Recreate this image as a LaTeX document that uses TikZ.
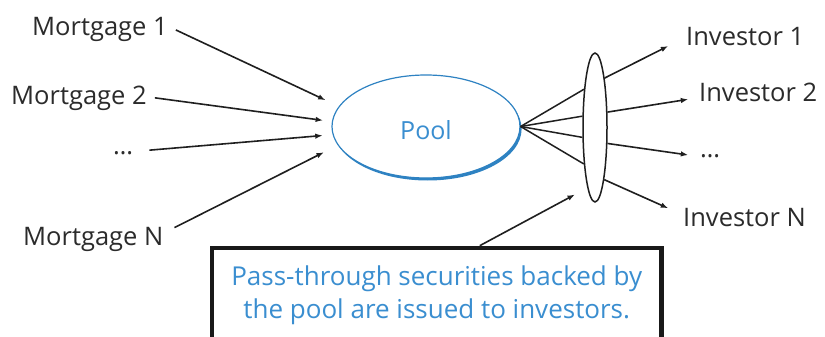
\documentclass[tikz,border=0pt]{standalone}
\usepackage{fontspec}
\setmainfont{Open Sans}
\usetikzlibrary{shapes.geometric,arrows.meta}
\definecolor{lblc}{HTML}{2B2B2B}
\definecolor{poolblue}{HTML}{2E82C2}
\definecolor{txtblue}{HTML}{3A8ED0}
\begin{document}
\begin{tikzpicture}[x=1pt,y=-1pt,
  lbl/.style={text=lblc, font=\fontsize{25.5}{30}\selectfont, inner sep=0pt, anchor=base west},
  arr/.style={line width=1.6pt, draw=black!88, -{Latex[length=7.5pt,width=5.5pt]}},
  ln/.style={line width=1.5pt, draw=black!88},
  poolshape/.style={ellipse, draw=poolblue, line width=1.2pt, minimum width=188pt, minimum height=103pt,
     text=txtblue, font=\fontsize{25}{30}\selectfont, text height=26.5pt, text depth=0pt},
  lensshape/.style={ellipse, draw=black!88, line width=1.5pt, minimum width=24pt, minimum height=149pt, inner sep=0pt},
  notebox/.style={rectangle, draw=black!90, line width=4.6pt, minimum width=449.5pt, minimum height=95pt,
     text=txtblue, align=center, font=\fontsize{26}{33}\selectfont}]
\useasboundingbox (0,0) rectangle (825,337);
\clip (0,0) rectangle (825,337);
\fill[white] (0,0) rectangle (825,337);

% pool shadow crescent
\begin{scope}[even odd rule]
  \clip (0,0) rectangle (825,337) (426,126.5) ellipse [x radius=94, y radius=51.5];
  \fill[poolblue] (427.6,129) ellipse [x radius=94, y radius=51.5];
\end{scope}
\node[poolshape] (pool) at (426,126.5) {Pool};
\node[lensshape] (lens) at (595,127.5) {};

% labels
\node[lbl] (m1) at (32,36) {Mortgage 1};
\node[lbl] (m2) at (11,104) {Mortgage 2};
\node[lbl] (md) at (113,154) {…};
\node[lbl] (mN) at (23,245) {Mortgage N};
\node[lbl] (i1) at (686,46) {Investor 1};
\node[lbl] (i2) at (699,102) {Investor 2};
\node[lbl] (id) at (700,157) {…};
\node[lbl] (iN) at (683,226) {Investor N};

% note box
\node[notebox] (note) at (436.75,295.5) {Pass-through securities backed by\\the pool are issued to investors.};

% mortgages into pool
\draw[arr, shorten >=14.5pt] ([xshift=8pt]m1.east) -- (pool.167.9);
\draw[arr, shorten >=8.8pt] ([xshift=8pt]m2.east) -- (pool.177.6);
\draw[arr, shorten >=9.9pt] ([xshift=16pt,yshift=2.5pt]md.east) -- (pool.185.5);
\draw[arr, shorten >=15.5pt] ([xshift=11pt,yshift=-1pt]mN.north east) -- (pool.192.9);

% pool to lens
\draw[ln] (pool.east) -- (lens.106.1);
\draw[ln] (pool.east) -- (lens.138);
\draw[ln] (pool.east) -- (lens.218);
\draw[ln] (pool.east) -- (lens.253.9);

% lens to investors
\draw[arr] (lens.79.4) -- ([xshift=-17.7pt]i1.base west);
\draw[arr] (lens.51.3) -- ([xshift=-10.7pt,yshift=2.7pt]i2.base west);
\draw[arr] (lens.308.7) -- ([xshift=-11.7pt,yshift=2pt]id.base west);
\draw[arr] (lens.280.6) -- ([xshift=-14.7pt,yshift=17.7pt]iN.base west);

% note to lens
\draw[arr] ([xshift=43pt]note.north) -- ([xshift=-20pt,yshift=-67pt]lens.center);
\end{tikzpicture}
\end{document}
